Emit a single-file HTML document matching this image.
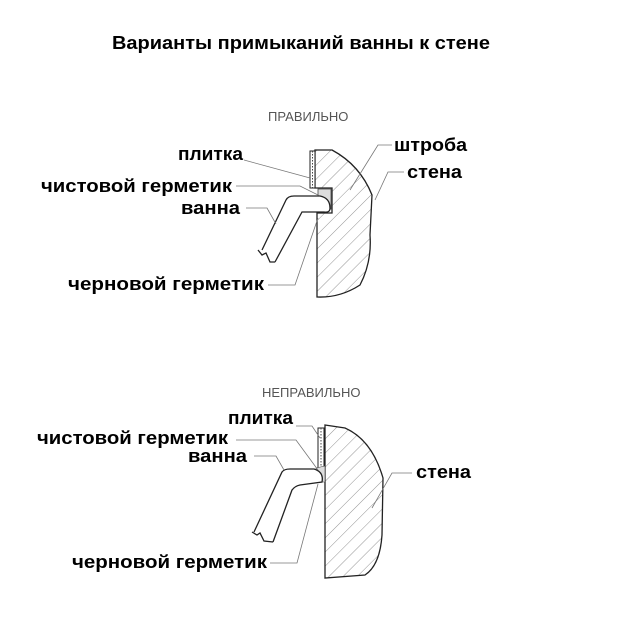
<!DOCTYPE html>
<html><head><meta charset="utf-8"><style>
body{margin:0;background:#fff;width:630px;height:620px;overflow:hidden}
svg{display:block}
.t{font-family:"Liberation Sans",sans-serif;font-weight:bold;font-size:18px;fill:#000}
.s{font-family:"Liberation Sans",sans-serif;font-size:13px;fill:#555}
.l{stroke:#777;stroke-width:0.8;fill:none}
.o{stroke:#222;stroke-width:1.3}
</style></head><body>
<svg width="630" height="620" viewBox="0 0 630 620">
<defs>
<pattern id="h" width="10" height="10" patternUnits="userSpaceOnUse" patternTransform="rotate(45)">
<line x1="0" y1="0" x2="0" y2="10" stroke="#666" stroke-width="0.7"/></pattern>
</defs>
<text x="112" y="49" class="t" style="font-size:18px" textLength="378" lengthAdjust="spacingAndGlyphs">Варианты примыканий ванны к стене</text>

<!-- TOP -->
<text x="268" y="121" class="s">ПРАВИЛЬНО</text>
<path d="M315,150 L332,150 Q360,165 372,195 L370,235 Q372,262 360,285 Q340,298 317,297 L317,213 L332,213 L332,188 L315,188 Z" style="fill:url(#h)" class="o"/>
<rect x="310" y="151" width="5" height="37" fill="#fff" stroke="#222" stroke-width="1"/>
<line x1="312.5" y1="151" x2="312.5" y2="188" stroke="#444" stroke-dasharray="1.5,1.5"/>
<rect x="318" y="189" width="13" height="20" fill="#ddd" stroke="#444" stroke-width="0.8"/>
<path d="M262,250 L286,200 Q288,196 294,196 L320,196 Q330,198 330,208 Q330,213 324,212 L302,212 L275,262 M258,250 L262,255 L266,253 L270,262 L275,262" class="o" style="fill:#fff"/>
<text x="178" y="160" class="t" textLength="65" lengthAdjust="spacingAndGlyphs">плитка</text>
<path d="M244,160 L310,178" class="l"/>
<text x="41" y="192" class="t" textLength="191" lengthAdjust="spacingAndGlyphs">чистовой герметик</text>
<path d="M236,186 L300,186 L318,195" class="l"/>
<text x="181" y="214" class="t" textLength="59" lengthAdjust="spacingAndGlyphs">ванна</text>
<path d="M246,208 L267,208 L276,224" class="l"/>
<text x="68" y="290" class="t" textLength="196" lengthAdjust="spacingAndGlyphs">черновой герметик</text>
<path d="M268,285 L295,285 L318,218" class="l"/>
<text x="394" y="151" class="t" textLength="73" lengthAdjust="spacingAndGlyphs">штроба</text>
<path d="M392,145 L378,145 L350,190" class="l"/>
<text x="407" y="178" class="t" textLength="55" lengthAdjust="spacingAndGlyphs">стена</text>
<path d="M404,172 L388,172 L375,200" class="l"/>

<!-- BOTTOM -->
<text x="262" y="397" class="s">НЕПРАВИЛЬНО</text>
<path d="M325,425 L345,428 Q372,440 383,478 L382,535 Q380,565 365,575 L325,578 Z" style="fill:url(#h)" class="o"/>
<rect x="318" y="428" width="6" height="42" fill="#fff" stroke="#222" stroke-width="1"/>
<line x1="321" y1="428" x2="321" y2="470" stroke="#444" stroke-dasharray="1.5,1.5"/>
<path d="M316,468 L325,466 L325,482 L318,482 Z" fill="#ddd" stroke="#444" stroke-width="0.6"/>
<path d="M254,532 L282,472 Q284,469 290,469 L314,469 Q324,472 322,482 L300,485 Q295,486 292,490 L273,542 M252,532 L257,535 L260,533 L264,541 L273,542" class="o" style="fill:#fff"/>
<text x="228" y="424" class="t" textLength="65" lengthAdjust="spacingAndGlyphs">плитка</text>
<path d="M296,426 L312,426 L320,438" class="l"/>
<text x="37" y="444" class="t" textLength="191" lengthAdjust="spacingAndGlyphs">чистовой герметик</text>
<path d="M236,440 L296,440 L318,470" class="l"/>
<text x="188" y="462" class="t" textLength="59" lengthAdjust="spacingAndGlyphs">ванна</text>
<path d="M254,456 L276,456 L284,470" class="l"/>
<text x="72" y="568" class="t" textLength="195" lengthAdjust="spacingAndGlyphs">черновой герметик</text>
<path d="M270,563 L297,563 L318,484" class="l"/>
<text x="416" y="478" class="t" textLength="55" lengthAdjust="spacingAndGlyphs">стена</text>
<path d="M412,473 L392,473 L372,508" class="l"/>
</svg>
</body></html>
